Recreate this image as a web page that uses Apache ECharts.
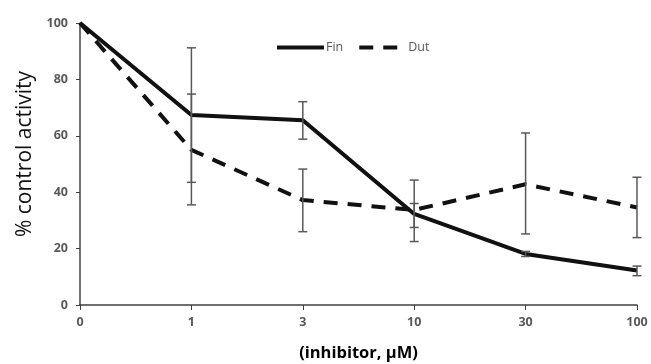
<!DOCTYPE html>
<html><head><meta charset="utf-8">
<script src="https://cdn.jsdelivr.net/npm/echarts@6/dist/echarts.min.js"></script>
<style>html,body{margin:0;padding:0;background:#fff}#c{width:651px;height:364px}</style>
</head><body><div id="c"></div>
<script>
const categories = ['0','1','3','10','30','100'];
const finValues = [100, 67.4, 65.5, 32.3, 18.1, 12.2];
const finErrHigh = [null, 91.2, 72.1, 36.0, 19.0, 13.8];
const finErrLow  = [null, 43.5, 58.8, 27.5, 17.2, 10.4];
const dutValues = [100, 55.0, 37.2, 33.7, 42.8, 34.6];
const dutErrHigh = [null, 74.8, 48.2, 44.3, 61.0, 45.3];
const dutErrLow  = [null, 35.5, 26.0, 22.5, 25.2, 23.9];
const yTicks = [0, 20, 40, 60, 80, 100];

function errData(lo, hi){
  const out = [];
  for (let i=0;i<categories.length;i++){ if (lo[i]!=null) out.push([i, lo[i], hi[i]]); }
  return out;
}
function renderErr(params, api){
  const x = api.value(0);
  const pHi = api.coord([x, api.value(2)]);
  const pLo = api.coord([x, api.value(1)]);
  const w = 4.5;
  const st = {stroke:'#595959', lineWidth:1.5};
  return {type:'group', children:[
    {type:'line', shape:{x1:pHi[0],y1:pHi[1],x2:pLo[0],y2:pLo[1]}, style:st},
    {type:'line', shape:{x1:pHi[0]-w,y1:pHi[1],x2:pHi[0]+w,y2:pHi[1]}, style:st},
    {type:'line', shape:{x1:pLo[0]-w,y1:pLo[1],x2:pLo[0]+w,y2:pLo[1]}, style:st}
  ]};
}
const chart = echarts.init(document.getElementById('c'));
chart.setOption({
  animation:false,
  backgroundColor:'#fff',
  grid:{left:80, right:14, top:23, bottom:59, containLabel:false, outerBoundsMode:'none'},
  legend:{
    data:['Fin','Dut'], top:36, left:270, itemWidth:47, itemHeight:12, itemGap:14,
    itemStyle:{opacity:0},
    lineStyle:{width:4},
    textStyle:{fontFamily:'Open Sans', fontSize:12.5, color:'#595959', padding:[0,0,0,-3]}
  },
  xAxis:{
    type:'category', data:categories, boundaryGap:false,
    axisLine:{lineStyle:{color:'#404040', width:1.5}},
    axisTick:{show:true, length:5, alignWithLabel:true, lineStyle:{color:'#404040'}},
    axisLabel:{fontFamily:'Open Sans', fontWeight:'bold', fontSize:12.5, color:'#595959', margin:11},
    name:'(inhibitor, μM)', nameLocation:'middle', nameGap:40,
    nameTextStyle:{fontFamily:'Open Sans', fontWeight:'bold', fontSize:16.5, color:'#000'}
  },
  yAxis:{
    type:'value', min:0, max:100, interval:20,
    splitLine:{show:false},
    axisLine:{show:true, lineStyle:{color:'#404040', width:1.5}},
    axisTick:{show:true, length:4, lineStyle:{color:'#404040'}},
    axisLabel:{fontFamily:'Open Sans', fontWeight:'bold', fontSize:12.5, color:'#595959', margin:12,
      formatter:v=> yTicks.includes(v) ? String(v) : ''},
    name:'% control activity', nameLocation:'middle', nameGap:44,
    nameTextStyle:{fontFamily:'Open Sans', fontSize:21, color:'#111', padding:[0,0,0,20]}
  },
  series:[
    {name:'Fin', type:'line', data:finValues, symbol:'none', z:3,
     lineStyle:{color:'#111', width:4}, itemStyle:{color:'#111'}},
    {name:'Dut', type:'line', data:dutValues, symbol:'none', z:3,
     lineStyle:{color:'#111', width:4, type:[14,10]}, itemStyle:{color:'#111'}},
    {type:'custom', renderItem:renderErr, data:errData(finErrLow, finErrHigh), z:4,
     encode:{x:0, y:[1,2]}},
    {type:'custom', renderItem:renderErr, data:errData(dutErrLow, dutErrHigh), z:4,
     encode:{x:0, y:[1,2]}}
  ]
});
</script></body></html>
